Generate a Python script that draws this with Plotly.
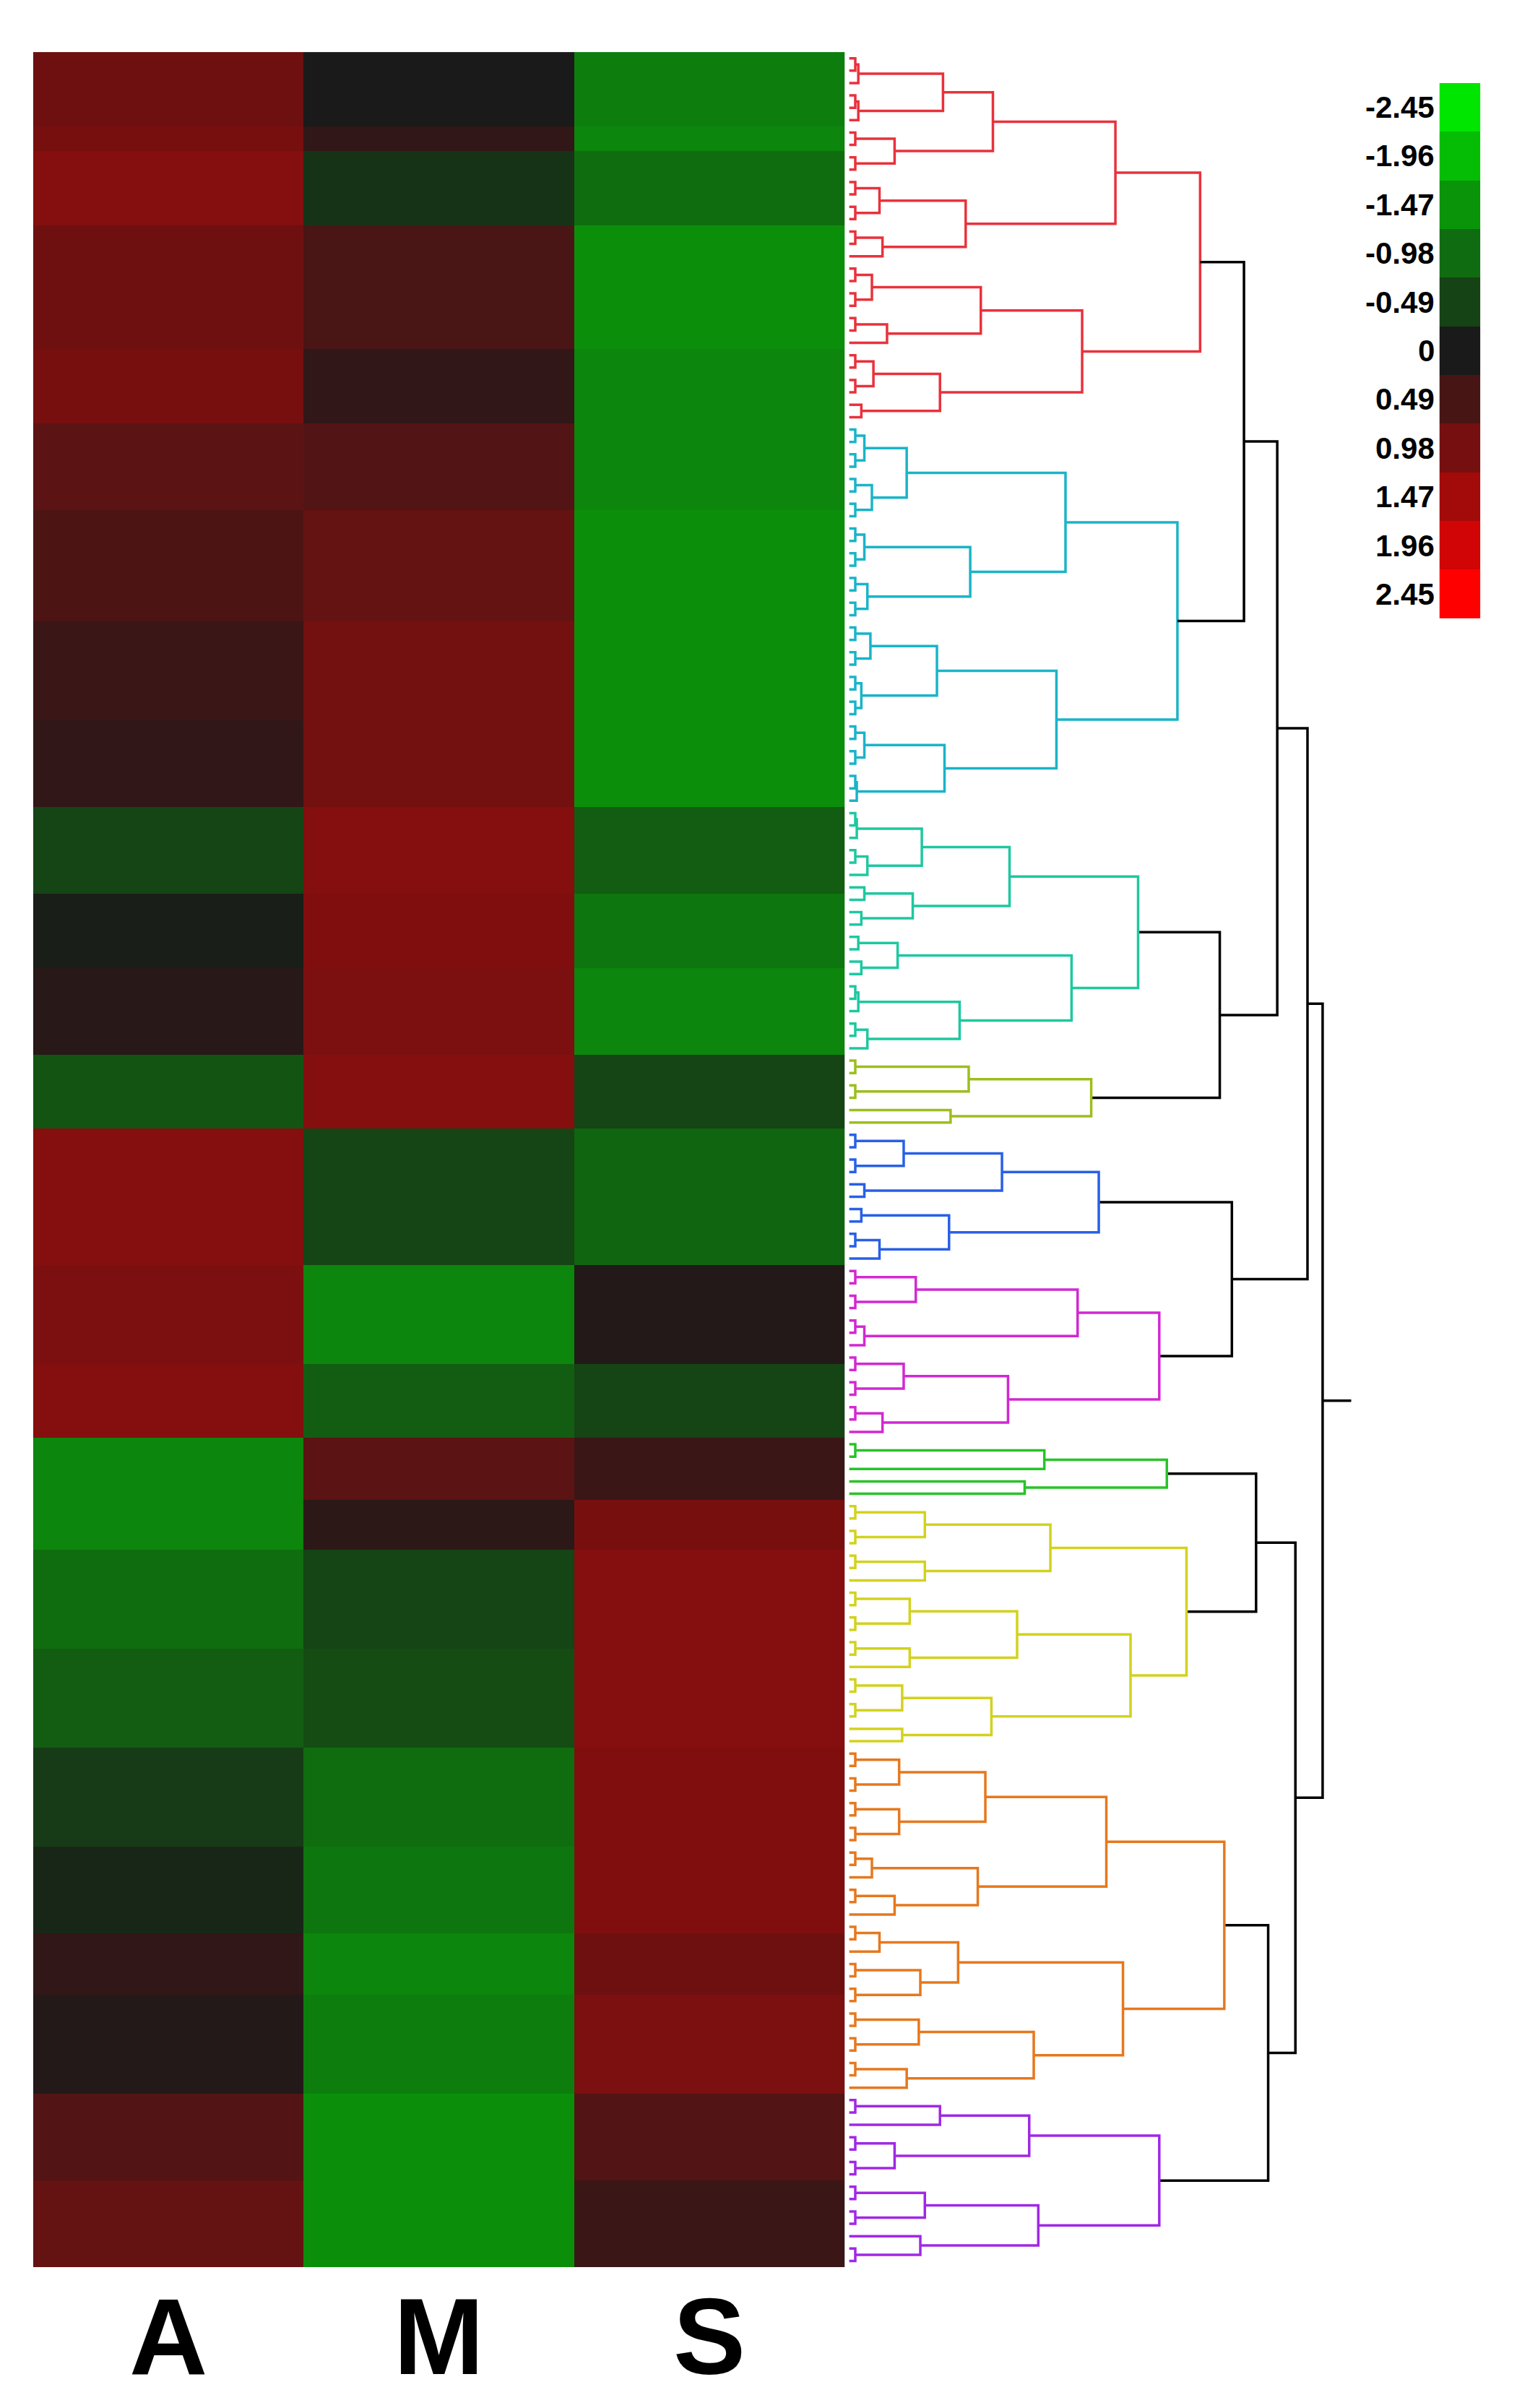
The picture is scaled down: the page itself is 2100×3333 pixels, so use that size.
import numpy as np
import plotly.graph_objects as go

# heatmap blocks: number of rows and value for each column (A, M, S)
block_counts = [6, 2, 6, 10, 6,   7, 9, 8, 7,   7, 6, 7,   6,   11,   8, 6,   5,   4, 8, 8,   8, 7, 5, 8,   7, 7]
block_A = [0.9, 1.0, 1.15, 0.9, 1.0,   0.7, 0.55, 0.35, 0.25,   -0.5, -0.05, 0.15,   -0.7,   1.15,   1.05, 1.15,   -1.3,   -1.3, -1.0, -0.8,   -0.4, -0.15, 0.25, 0.1,   0.6, 0.8]
block_M = [0.0, 0.25, -0.3, 0.5, 0.25,   0.6, 0.8, 0.95, 0.95,   1.15, 1.1, 1.05,   1.15,   -0.5,   -1.3, -0.8,   0.7,   0.2, -0.5, -0.6,   -1.0, -1.1, -1.3, -1.2,   -1.4, -1.4]
block_S = [-1.2, -1.3, -1.0, -1.4, -1.3,   -1.3, -1.4, -1.4, -1.4,   -0.8, -1.1, -1.3,   -0.5,   -0.9,   0.1, -0.5,   0.35,   1.0, 1.15, 1.15,   1.1, 1.1, 0.9, 1.05,   0.6, 0.35]
columns = ["A", "M", "S"]

legend_values = [-2.45, -1.96, -1.47, -0.98, -0.49, 0, 0.49, 0.98, 1.47, 1.96, 2.45]
legend_labels = ["-2.45", "-1.96", "-1.47", "-0.98", "-0.49", "0", "0.49", "0.98", "1.47", "1.96", "2.45"]

# dendrogram: (height, left, right); an int is a small group of leaves
clusters = {
    "red": (232, (176, (95, (62, 3, 3), (30, 2, 2)), (77, (20, 2, 2), (22, 2, 1))),
                 (154, (87, (15, 2, 2), (25, 2, 1)), (60, (16, 2, 2), (8, 1, 1)))),
    "cyan": (217, (143, (38, (10, 2, 2), (15, 2, 2)), (80, (10, 2, 2), (12, 2, 2))),
                  (137, (58, (14, 2, 2), (8, 2, 2)), (63, (10, 2, 2), (5, 2, 1)))),
    "teal": (191, (106, (48, (5, 2, 1), (12, 2, 1)), (42, (10, 1, 1), (8, 1, 1))),
                  (147, (32, (6, 1, 1), (8, 1, 1)), (73, (6, 2, 1), (12, 2, 1)))),
    "olive": (160, (79, 2, 2), (67, 1, 1)),
    "blue": (165, (101, (36, 2, 2), (10, 1, 1)), (66, (8, 1, 1), (20, 2, 1))),
    "magenta": (205, (151, (44, 2, 2), (10, 2, 1)), (105, (36, 2, 2), (22, 2, 1))),
    "green": (210, (129, 2, 1), (116, 1, 1)),
    "yellow": (223, (133, (50, 2, 2), (50, 2, 1)),
                    (186, (111, (40, 2, 2), (40, 2, 1)), (94, (35, 2, 2), (35, 1, 1)))),
    "orange": (248, (170, (90, (33, 2, 2), (33, 2, 2)), (85, (15, 2, 1), (30, 2, 1))),
                    (181, (72, (20, 2, 1), (47, 2, 2)), (122, (46, 2, 2), (38, 2, 1)))),
    "purple": (205, (119, (60, 2, 1), (30, 2, 2)), (125, (50, 2, 2), (47, 1, 2))),
}
cluster_colors = {"red": "#e8323c", "cyan": "#1ab4c8", "teal": "#1ec8a0", "olive": "#9cbe1e",
                  "blue": "#2860e6", "magenta": "#d228d2", "green": "#28c328", "yellow": "#d2d21e",
                  "orange": "#e6781e", "purple": "#a028e6"}
top = (313, (303, (283, (261, "red", "cyan"), (245, "teal", "olive")), (253, "blue", "magenta")),
            (295, (269, "green", "yellow"), (277, "orange", "purple")))
root_stub = 332

A, M, S = [], [], []
for n, a, m, s in zip(block_counts, block_A, block_M, block_S):
    A += [a] * n; M += [m] * n; S += [s] * n
N = len(A)
z = np.array([A, M, S]).T

segs = {}
counter = [0]

def add(color, xs, ys):
    segs.setdefault(color, ([], []))
    segs[color][0].extend(xs + [None]); segs[color][1].extend(ys + [None])

def group(n, color):
    # n leaves joined in a short ladder
    y = counter[0]; counter[0] += 1; h = 0
    for k in range(1, n):
        y2 = counter[0]; counter[0] += 1
        hn = 2 + 2 * k
        add(color, [h, hn, hn, 0], [y, y, y2, y2])
        y, h = (y + y2) / 2, hn
    return y, h

def walk(node, color):
    if isinstance(node, int):
        return group(node, color)
    h, l, r = node
    yl, hl = walk(l, color); yr, hr = walk(r, color)
    add(color, [hl, h, h, hr], [yl, yl, yr, yr])
    return (yl + yr) / 2, h

def walk_top(node):
    if isinstance(node, str):
        return walk(clusters[node], cluster_colors[node])
    h, l, r = node
    yl, hl = walk_top(l); yr, hr = walk_top(r)
    add("black", [hl, h, h, hr], [yl, yl, yr, yr])
    return (yl + yr) / 2, h

yroot, hroot = walk_top(top)
add("black", [hroot, root_stub], [yroot, yroot])

colorscale = [[0, "#00e600"], [0.5, "#1a1a1a"], [1, "#ff0000"]]
fig = go.Figure()
fig.add_trace(go.Heatmap(z=z, x=[0, 1, 2], y=list(range(N)), colorscale=colorscale,
                         zmin=-2.45, zmax=2.45, showscale=False, xaxis="x", yaxis="y"))
for color, (xs, ys) in segs.items():
    fig.add_trace(go.Scatter(x=xs, y=ys, mode="lines", line=dict(color=color, width=3.5),
                             showlegend=False, xaxis="x2", yaxis="y"))
fig.add_trace(go.Heatmap(z=[[v] for v in legend_values], x=[0], y=list(range(len(legend_values))),
                         colorscale=colorscale, zmin=-2.45, zmax=2.45, showscale=False,
                         xaxis="x3", yaxis="y3"))

H = 1560
y_lo, y_hi = 1 - 1465 / H, 1 - 30 / H
fig.update_layout(
    width=2100, height=3333, margin=dict(l=0, r=0, t=0, b=0),
    paper_bgcolor="white", plot_bgcolor="white",
    xaxis=dict(domain=[0.018, 0.553], range=[-0.5, 2.5], visible=False),
    yaxis=dict(domain=[y_lo, y_hi], range=[N - 0.5, -0.5], visible=False),
    xaxis2=dict(domain=[0.555, 0.887], range=[-1, root_stub], visible=False, anchor="y"),
    xaxis3=dict(domain=[0.945, 0.972], range=[-0.5, 0.5], visible=False, anchor="y3"),
    yaxis3=dict(domain=[1 - 397 / H, 1 - 50 / H], range=[10.5, -0.5], visible=False, anchor="x3"),
)
lfont = dict(family="Liberation Sans", size=42, color="black")
y3_top, y3_bot = 1 - 50 / H, 1 - 397 / H
for i, lab in enumerate(legend_labels):
    fig.add_annotation(text="<b>%s</b>" % lab, xref="paper", yref="paper", x=0.943,
                       y=y3_top - (i + 0.5) * (y3_top - y3_bot) / 11, xanchor="right",
                       yanchor="middle", showarrow=False, font=lfont)
for i, c in enumerate(columns):
    fig.add_annotation(text="<b>%s</b>" % c, xref="x", yref="paper", x=i, y=1 - 1510 / H,
                       yanchor="middle", showarrow=False,
                       font=dict(family="Liberation Sans", size=150, color="black"))
fig.write_html("out.html")
